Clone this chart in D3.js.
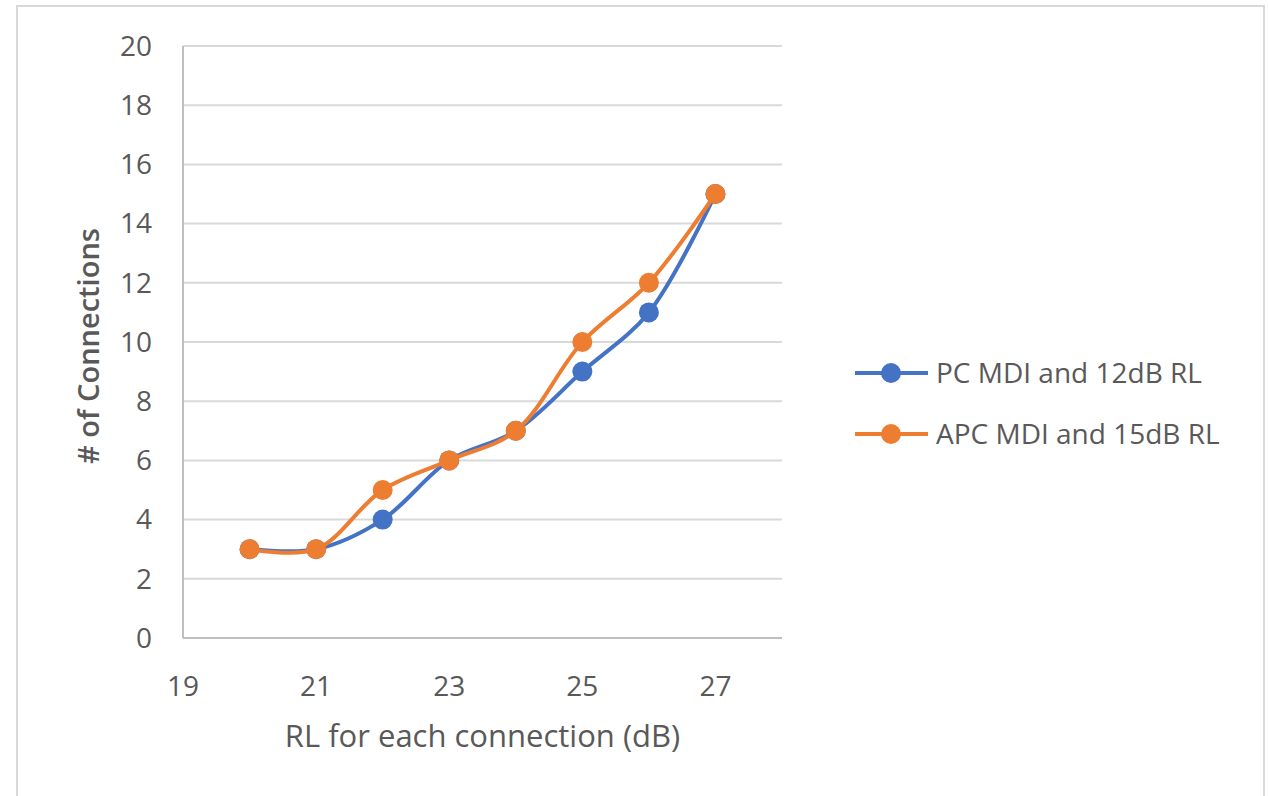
<!DOCTYPE html>
<html><head><meta charset="utf-8">
<script src="https://cdn.jsdelivr.net/npm/d3@7"></script>
<style>body{margin:0;background:#fff}svg{display:block}</style>
</head><body>
<svg id="c" width="1268" height="796"></svg>
<script>
const rlValues = [20, 21, 22, 23, 24, 25, 26, 27];
const pcSeries = [3, 3, 4, 6, 7, 9, 11, 15];
const apcSeries = [3, 3, 5, 6, 7, 10, 12, 15];
const seriesNames = ["PC MDI and 12dB RL", "APC MDI and 15dB RL"];
const seriesColors = ["#4472C4", "#ED7D31"];
const xTicks = [19, 21, 23, 25, 27];
const yTicks = [0, 2, 4, 6, 8, 10, 12, 14, 16, 18, 20];

const svg = d3.select("#c");
const font = "'Open Sans', sans-serif";
const txt = "#595959";

svg.append("rect").attr("x", 17).attr("y", 6).attr("width", 1247).attr("height", 800)
  .attr("fill", "#fff").attr("stroke", "#d9d9d9").attr("stroke-width", 2);

const x = d3.scaleLinear().domain([19, 28]).range([183, 782]);
const y = d3.scaleLinear().domain([0, 20]).range([638, 46]);

const g = svg.append("g");
g.selectAll("line.grid").data(yTicks.filter(d => d > 0)).join("line")
  .attr("x1", x(19)).attr("x2", x(28)).attr("y1", d => y(d)).attr("y2", d => y(d))
  .attr("stroke", "#d9d9d9").attr("stroke-width", 2);
g.append("line").attr("x1", x(19)).attr("x2", x(19)).attr("y1", y(20)).attr("y2", y(0))
  .attr("stroke", "#bfbfbf").attr("stroke-width", 2);
g.append("line").attr("x1", x(19)).attr("x2", x(28)).attr("y1", y(0)).attr("y2", y(0))
  .attr("stroke", "#bfbfbf").attr("stroke-width", 2);

g.selectAll("text.yt").data(yTicks).join("text")
  .attr("x", 152).attr("y", d => y(d)).attr("dy", "0.35em").attr("text-anchor", "end")
  .attr("font-family", font).attr("font-size", 28).attr("fill", txt).text(d => d);
g.selectAll("text.xt").data(xTicks).join("text")
  .attr("x", d => x(d)).attr("y", 686).attr("dy", "0.35em").attr("text-anchor", "middle")
  .attr("font-family", font).attr("font-size", 28).attr("fill", txt).text(d => d);

svg.append("text").attr("x", (x(19) + x(28)) / 2).attr("y", 747).attr("text-anchor", "middle")
  .attr("font-family", font).attr("font-size", 31).attr("fill", txt).text("RL for each connection (dB)");
svg.append("text").attr("transform", "translate(99," + (y(10) + 4) + ") rotate(-90)").attr("text-anchor", "middle")
  .attr("font-family", font).attr("font-size", 29).attr("font-weight", 600).attr("fill", txt).text("# of Connections");

const series = [pcSeries, apcSeries];
const line = d3.line().x((d, i) => x(rlValues[i])).y(d => y(d)).curve(d3.curveCatmullRom.alpha(0.5));
series.forEach((s, k) => {
  g.append("path").attr("d", line(s)).attr("fill", "none").attr("stroke", seriesColors[k])
    .attr("stroke-width", 4).attr("stroke-linejoin", "round").attr("stroke-linecap", "round");
  g.selectAll(null).data(s).join("circle").attr("cx", (d, i) => x(rlValues[i])).attr("cy", d => y(d))
    .attr("r", 10).attr("fill", seriesColors[k]);
});

const leg = svg.append("g");
seriesNames.forEach((n, k) => {
  const ly = 373 + k * 61;
  leg.append("line").attr("x1", 855).attr("x2", 928).attr("y1", ly).attr("y2", ly)
    .attr("stroke", seriesColors[k]).attr("stroke-width", 4);
  leg.append("circle").attr("cx", 891).attr("cy", ly).attr("r", 10).attr("fill", seriesColors[k]);
  leg.append("text").attr("x", 936).attr("y", ly).attr("dy", "0.35em").attr("font-family", font)
    .attr("font-size", 28).attr("fill", txt).text(n);
});
</script>
</body></html>
